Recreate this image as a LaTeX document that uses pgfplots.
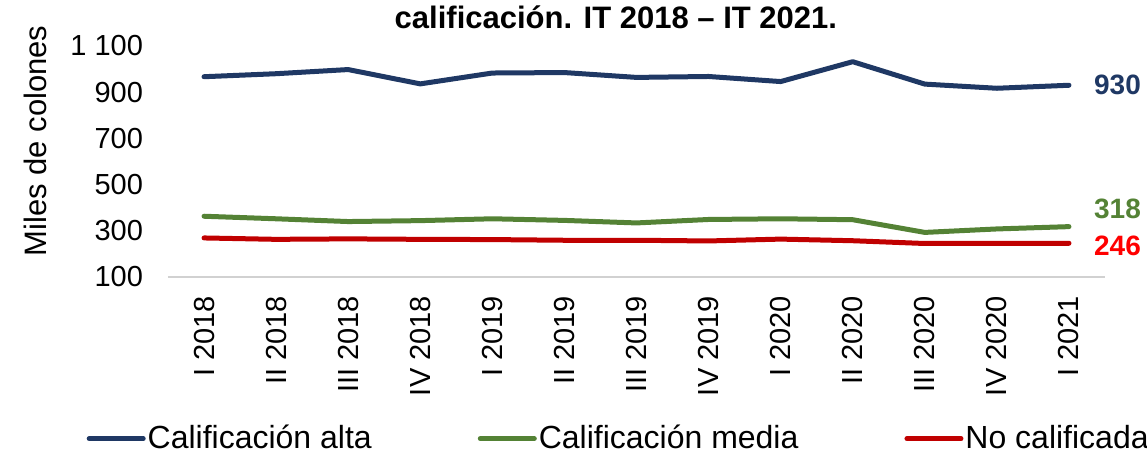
\documentclass[border=0pt]{standalone}
\usepackage{fontspec}
\setmainfont{Liberation Sans}
\usepackage{pgfplots}
\usepackage{pgfplotstable}
\pgfplotsset{compat=1.18}

\definecolor{alta}{HTML}{1F3864}
\definecolor{media}{HTML}{548235}
\definecolor{noc}{HTML}{C00000}
\definecolor{nocl}{HTML}{FF0000}

% quarters IT 2018 - IT 2021, thousands of colones
\pgfplotstableread{
idx alta media noc
0   967  363  269
1   980  352  263
2   998  340  265
3   936  344  263
4   983  352  262
5   985  345  259
6   964  334  259
7   968  349  256
8   946  352  264
9   1032 348  257
10  935  293  245
11  917  308  245
12  930  318  246
}\datos

\begin{document}
\begin{tikzpicture}
\path[use as bounding box] (0pt,0pt) rectangle (573.5pt,227pt);
\begin{axis}[
    at={(84pt,88.5pt)}, anchor=south west,
    scale only axis, width=468.5pt, height=115.5pt,
    xmin=-0.5, xmax=12.5, ymin=100, ymax=1100,
    clip=false,
    axis x line*=bottom, axis y line*=left,
    x axis line style={draw=black!18, line width=1pt, -},
    y axis line style={draw=none},
    major tick length=0pt,
    xtick={0,...,12},
    xticklabels={I 2018,II 2018,III 2018,IV 2018,I 2019,II 2019,III 2019,IV 2019,I 2020,II 2020,III 2020,IV 2020,I 2021},
    xticklabel style={rotate=90, anchor=east, xshift=-6pt, font=\fontsize{14.5}{17}\selectfont},
    ytick={100,300,500,700,900,1100},
    yticklabels={100,300,500,700,900,1 100},
    yticklabel style={anchor=east, xshift=-9pt, font=\fontsize{14.5}{17}\selectfont},
    ylabel={Miles de colones},
    ylabel style={at={(rel axis cs:-0.142,0.589)}, anchor=center, font=\fontsize{15.5}{18}\selectfont},
    title={calificación. IT 2018 – IT 2021.},
    title style={at={(rel axis cs:0.478,1.025)}, anchor=base, font=\bfseries\fontsize{15.5}{18}\selectfont},
    legend columns=3,
    legend style={at={(rel axis cs:0.481,-0.7)}, anchor=center, draw=none,
        font=\fontsize{16}{19}\selectfont, inner sep=0pt,
        /tikz/every even column/.append style={column sep=52pt},
        nodes={inner sep=1pt}},
    legend image code/.code={\draw[#1, line width=2.5pt, line cap=round] (0pt,0pt) -- (27pt,0pt);},
    every axis plot/.append style={line width=2.5pt, line cap=round, line join=round, mark=none},
]
\addplot[alta] table[x=idx, y=alta] {\datos}
    node[pos=1, anchor=west, xshift=8pt, text=alta, font=\bfseries\fontsize{14}{16}\selectfont] {930};
\addplot[media] table[x=idx, y=media] {\datos}
    node[pos=1, anchor=west, xshift=8pt, yshift=9pt, text=media, font=\bfseries\fontsize{14}{16}\selectfont] {318};
\addplot[noc] table[x=idx, y=noc] {\datos}
    node[pos=1, anchor=west, xshift=8pt, yshift=-1.5pt, text=nocl, font=\bfseries\fontsize{14}{16}\selectfont] {246};
\legend{Calificación alta, Calificación media, No calificada}
\end{axis}
\end{tikzpicture}
\end{document}
